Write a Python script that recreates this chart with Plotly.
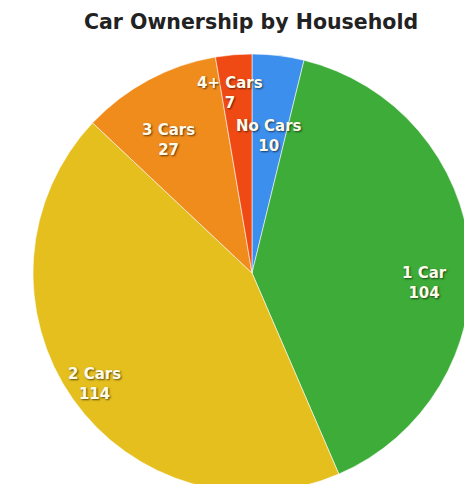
import math
import plotly.graph_objects as go

categories = ["No Cars", "1 Car", "2 Cars", "3 Cars", "4+ Cars"]
households = [10, 104, 114, 27, 7]
colors = ["#3d8fee", "#3dac38", "#e4bf1e", "#f08c1c", "#f04a14"]

# label placement style (radius fraction, angular nudge in degrees)
label_r = [0.63, 0.79, 0.88, 0.72, 0.83]
label_nudge = [0, 8, 0, -4, -2]

W, H = 472, 484
TOP = 46
dom_x = [25 / W, 463 / W]
dom_y = [0, (H - TOP) / H]

fig = go.Figure(go.Pie(
    labels=categories,
    values=households,
    sort=False,
    direction="clockwise",
    rotation=0,
    marker=dict(colors=colors, line=dict(color="rgba(255,255,255,0.55)", width=1)),
    textinfo="none",
    hoverinfo="label+value",
    showlegend=False,
    domain=dict(x=dom_x, y=dom_y),
))

# pie geometry in pixels (from the domain)
cx = (dom_x[0] + dom_x[1]) / 2 * W
cy_top = H - (dom_y[0] + dom_y[1]) / 2 * H
R = min((dom_x[1] - dom_x[0]) * W, (dom_y[1] - dom_y[0]) * H) / 2

total = sum(households)
cum = 0
annotations = []
for cat, val, rf, nd in zip(categories, households, label_r, label_nudge):
    mid = (cum + val / 2) / total * 360 + nd
    cum += val
    a = math.radians(mid)
    px = cx + rf * R * math.sin(a)
    py = cy_top - rf * R * math.cos(a)
    annotations.append(dict(
        x=px / W, y=1 - py / H, xref="paper", yref="paper",
        xanchor="center", yanchor="middle", showarrow=False,
        text=f"{cat}<br>{val}",
        font=dict(family="DejaVu Sans, sans-serif", size=15, color="#fffbea",
                  weight="bold", shadow="1px 1px 2px rgba(0,0,0,0.6)"),
    ))

fig.update_layout(
    width=W, height=H,
    margin=dict(l=0, r=0, t=0, b=0),
    paper_bgcolor="white",
    annotations=annotations,
    title=dict(text="<b>Car Ownership by Household</b>", x=243 / W, xanchor="center",
               y=1 - 14 / H, yanchor="middle",
               font=dict(family="DejaVu Sans, sans-serif", size=20.5, color="#222222")),
)

fig.write_html("out.html")
